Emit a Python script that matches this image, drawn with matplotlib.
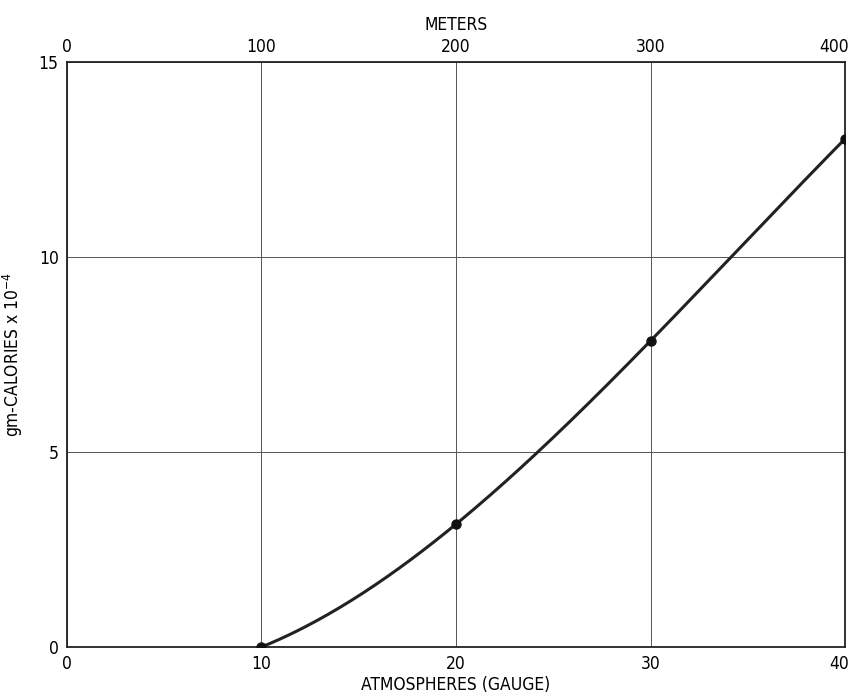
import numpy as np
import matplotlib.pyplot as plt
from matplotlib.transforms import ScaledTranslation

atmospheres = [10, 20, 30, 40]
calories = [0.0, 3.15, 7.85, 13.03]
x_ticks = [0, 10, 20, 30, 40]
y_ticks = [0, 5, 10, 15]
meter_ticks = [0, 100, 200, 300, 400]


def main():
    plt.rcParams["font.family"] = ["DejaVu Sans"]
    plt.rcParams["font.stretch"] = "condensed"
    plt.rcParams["font.weight"] = "light"
    fig = plt.figure(figsize=(8.52, 7.0), dpi=100)
    ax = fig.add_axes([0.0786, 0.0757, 0.9132, 0.8357])

    # smooth curve through the measured points
    coef = np.polyfit(atmospheres, calories, 3)
    xs = np.linspace(atmospheres[0], atmospheres[-1], 200)
    ax.plot(xs, np.polyval(coef, xs), color="#222222", lw=2.2, zorder=3)
    ax.plot(atmospheres, calories, "o", color="#111111", ms=6.5, zorder=4)

    ax.set_xlim(0, 40)
    ax.set_ylim(0, 15)
    ax.set_xticks(x_ticks)
    ax.set_yticks(y_ticks)
    ax.grid(True, color="#555555", lw=0.7)
    ax.tick_params(length=0, labelsize=12.5, pad=6)
    for s in ax.spines.values():
        s.set_color("#222222")
        s.set_linewidth(1.3)
    ax.set_xlabel("ATMOSPHERES (GAUGE)", fontsize=12.5, labelpad=2)
    ax.set_ylabel(r"gm-CALORIES x 10$^{-4}$", fontsize=12.5, labelpad=10)

    top = ax.twiny()
    top.set_xlim(0, 400)
    top.set_xticks(meter_ticks)
    top.tick_params(length=0, labelsize=12.5, pad=4)
    top.set_xlabel("METERS", fontsize=12.5, labelpad=6)
    for s in top.spines.values():
        s.set_visible(False)

    # keep the right-most labels inside the figure
    nudge = ScaledTranslation(4 / 100, 0, fig.dpi_scale_trans)
    for lab in (ax.get_xticklabels()[-1], top.get_xticklabels()[-1]):
        lab.set_ha("right")
        lab.set_transform(lab.get_transform() + nudge)

    fig.savefig("out.png", dpi=100)


if __name__ == "__main__":
    main()
